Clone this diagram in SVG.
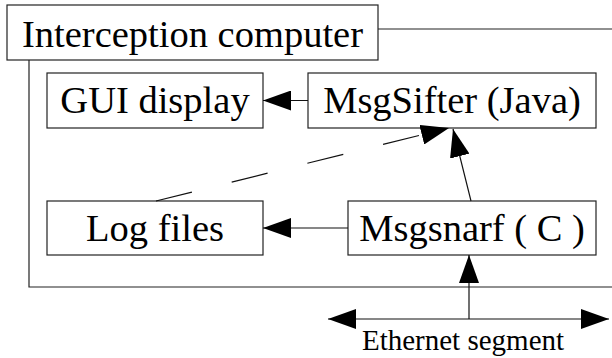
<svg xmlns="http://www.w3.org/2000/svg" width="612" height="358" viewBox="0 0 612 358">
  <style>
    .box { fill: #ffffff; stroke: #222222; stroke-width: 1.2; }
    .frame { fill: none; stroke: #222222; stroke-width: 1.2; }
    .label { font-family: "Liberation Serif", "Times New Roman", serif; font-size: 38.5px; fill: #000000; text-anchor: middle; }
    .small { font-family: "Liberation Serif", "Times New Roman", serif; font-size: 29px; fill: #000000; text-anchor: middle; }
    .edge { fill: none; stroke: #111111; stroke-width: 1.2; }
    .dashed { stroke-dasharray: 37 41; }
  </style>
  <defs>
    <marker id="arrow" viewBox="0 0 28 20" refX="28" refY="10" markerWidth="28" markerHeight="20" markerUnits="userSpaceOnUse" orient="auto-start-reverse">
      <path d="M0,0 L28,10 L0,20 Z" fill="#000000"/>
    </marker>
  </defs>

  <rect width="612" height="358" fill="#ffffff"/>

  <!-- host frame: tab line on top, left side and bottom edge -->
  <g id="interception-computer">
    <polyline class="frame" points="378,29 612,29"/>
    <polyline class="frame" points="29,60 29,287 612,287"/>
    <rect class="box" x="7" y="5" width="371" height="55"/>
    <text class="label" x="192.5" y="47">Interception computer</text>
  </g>

  <g id="gui-display">
    <rect class="box" x="47" y="73" width="216" height="55"/>
    <text class="label" x="155" y="113">GUI display</text>
  </g>

  <g id="msgsifter">
    <rect class="box" x="308" y="73" width="288" height="55"/>
    <text class="label" x="452" y="113">MsgSifter (Java)</text>
  </g>

  <g id="log-files">
    <rect class="box" x="47" y="201" width="216" height="54"/>
    <text class="label" x="155" y="241">Log files</text>
  </g>

  <g id="msgsnarf">
    <rect class="box" x="348" y="201" width="248" height="54"/>
    <text class="label" x="472" y="241">Msgsnarf ( C )</text>
  </g>

  <g id="ethernet-segment">
    <text class="small" x="463" y="350">Ethernet segment</text>
  </g>

  <g id="connectors">
    <line class="edge" x1="308" y1="100.5" x2="263" y2="100.5" marker-end="url(#arrow)"/>
    <line class="edge" x1="348" y1="228" x2="263" y2="228" marker-end="url(#arrow)"/>
    <line class="edge" x1="471" y1="201" x2="453" y2="129" marker-end="url(#arrow)"/>
    <line class="edge dashed" x1="156" y1="201" x2="449" y2="128" marker-end="url(#arrow)"/>
    <line class="edge" x1="469" y1="319" x2="469" y2="255" marker-end="url(#arrow)"/>
    <line class="edge" x1="328" y1="319" x2="609" y2="319" marker-start="url(#arrow)" marker-end="url(#arrow)"/>
  </g>
</svg>
